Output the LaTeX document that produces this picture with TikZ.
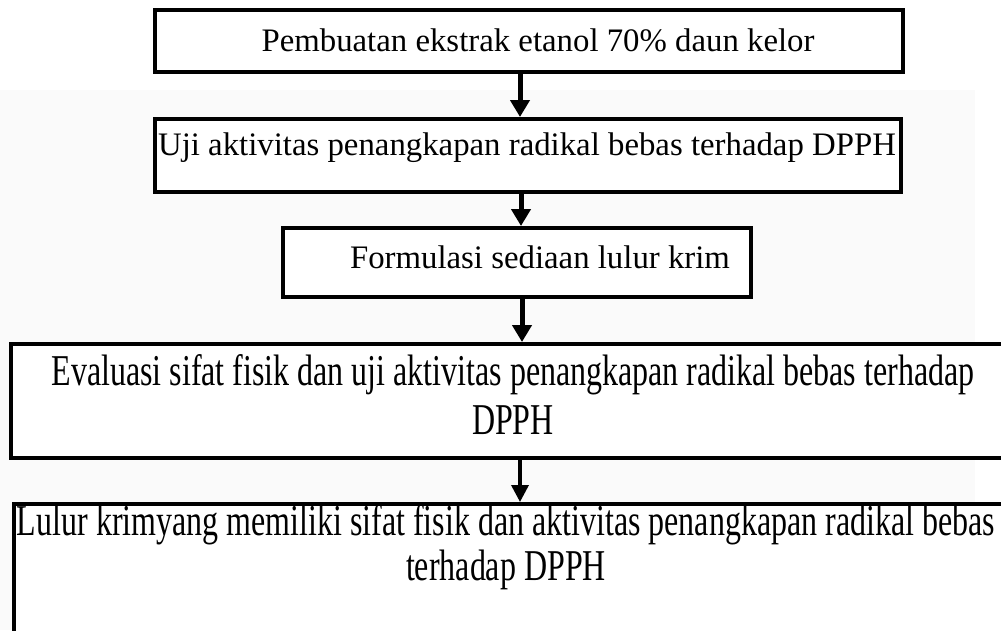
\documentclass[tikz,border=0pt]{standalone}
\usepackage{fontspec}
\setmainfont{Liberation Serif}
\newfontfamily\condfont[FakeStretch=0.727]{Liberation Serif}
\usetikzlibrary{arrows.meta}
\definecolor{bgwash}{HTML}{FAFAFA}
\tikzset{
  box/.style={draw=black, line width=4pt, fill=white, inner sep=0pt},
  arr/.style={line width=5pt, -{Triangle[width=19pt,length=17pt]}},
  thinarr/.style={line width=3.5pt, -{Triangle[width=17pt,length=17pt]}},
  txt/.style={inner sep=0pt, anchor=base, font=\fontsize{32.8}{39}\selectfont},
  ctxt/.style={inner sep=0pt, anchor=base, font=\condfont\fontsize{44}{47}\selectfont}
}
\begin{document}
\begin{tikzpicture}[x=1pt,y=-1pt]
\useasboundingbox (0,0) rectangle (1001,630);
\clip (0,0) rectangle (1001,630);
\fill[bgwash] (0,90) rectangle (975,630);
% boxes
\node[box, minimum width=748pt, minimum height=62pt] (b1) at (529,41) {};
\node[box, minimum width=746pt, minimum height=73pt] (b2) at (528,155.5) {};
\node[box, minimum width=468pt, minimum height=69pt] (b3) at (517,262.5) {};
\node[box, minimum width=999pt, minimum height=114pt] (b4) at (510.5,401) {};
\node[box, minimum width=996pt, minimum height=146pt] (b5) at (512,577) {};
% texts
\node[txt] (t1) at (538,51) {Pembuatan ekstrak etanol 70\% daun kelor};
\node[txt] (t2) at (527,155) {Uji aktivitas penangkapan radikal bebas terhadap DPPH};
\node[txt] (t3) at (540,268) {Formulasi sediaan lulur krim};
\node[ctxt] (t4a) at (513,385) {Evaluasi sifat fisik dan uji aktivitas penangkapan radikal bebas terhadap};
\node[ctxt] (t4b) at (513,434) {DPPH};
\node[ctxt] (t5a) at (506,535) {Lulur krimyang memiliki sifat fisik dan aktivitas penangkapan radikal bebas};
\node[ctxt] (t5b) at (506,580) {terhadap DPPH};
% arrows
\coordinate (x1) at (520,0);
\coordinate (x2) at (521,0);
\coordinate (x3) at (522,0);
\coordinate (x4) at (520,0);
\draw[arr] (b1.south -| x1) -- (b2.north -| x1);
\draw[arr] (b2.south -| x2) -- (b3.north -| x2);
\draw[arr] (b3.south -| x3) -- (b4.north -| x3);
\draw[thinarr] (b4.south -| x4) -- (b5.north -| x4);
\end{tikzpicture}
\end{document}
